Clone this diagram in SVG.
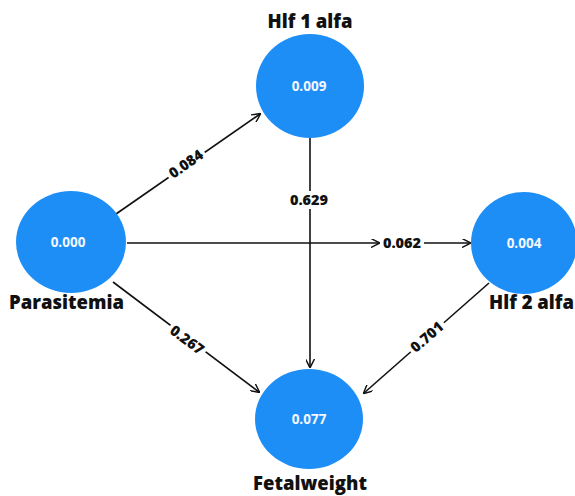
<svg xmlns="http://www.w3.org/2000/svg" width="575" height="496" viewBox="0 0 575 496">
<defs>
<marker id="ah" viewBox="0 0 10 10" refX="9" refY="5" markerWidth="9" markerHeight="9" markerUnits="userSpaceOnUse" orient="auto">
<path d="M0,0 L10,5 L0,10" fill="none" stroke="#111" stroke-width="1.6"/>
</marker>
<style>
.node{fill:#1E8EF7;}
.val{font-family:"Open Sans","DejaVu Sans",sans-serif;font-weight:bold;font-size:13.5px;fill:#f4f8ff;text-anchor:middle;}
.ttl{font-family:"Open Sans","DejaVu Sans",sans-serif;font-weight:800;font-size:18.5px;fill:#111;}
.edge{stroke:#111;stroke-width:1.6;fill:none;marker-end:url(#ah);}
.lbl{font-family:"Open Sans","DejaVu Sans",sans-serif;font-weight:800;font-size:14.5px;fill:#111;text-anchor:middle;}
.bg{fill:#fff;}
</style>
</defs>
<rect width="575" height="496" fill="#fff"/>
<g id="connectors">
<line class="edge" x1="116" y1="214" x2="260" y2="114"/>
<line class="edge" x1="310" y1="138" x2="310" y2="367"/>
<line class="edge" x1="127" y1="243" x2="379" y2="243"/>
<line class="edge" x1="424" y1="243" x2="470" y2="243"/>
<line class="edge" x1="113" y1="282" x2="259" y2="392"/>
<line class="edge" x1="489" y1="283" x2="364" y2="393"/>
<g transform="translate(186,164) rotate(-35)"><rect class="bg" x="-22" y="-9" width="44" height="18"/><text class="lbl" y="5">0.084</text></g>
<g transform="translate(309,200)"><rect class="bg" x="-22" y="-9" width="44" height="18"/><text class="lbl" y="5">0.629</text></g>
<g transform="translate(402,243)"><rect class="bg" x="-22" y="-9" width="44" height="18"/><text class="lbl" y="5">0.062</text></g>
<g transform="translate(187,340) rotate(37)"><rect class="bg" x="-22" y="-9" width="44" height="18"/><text class="lbl" y="5">0.267</text></g>
<g transform="translate(427,337) rotate(-41)"><rect class="bg" x="-22" y="-9" width="44" height="18"/><text class="lbl" y="5">0.701</text></g>
</g>
<g id="hlf1">
<ellipse class="node" cx="310" cy="86" rx="54" ry="52"/>
<text class="val" x="309" y="91">0.009</text>
<text class="ttl" x="310" y="28" text-anchor="middle">Hlf 1 alfa</text>
</g>
<g id="parasitemia">
<ellipse class="node" cx="71" cy="242" rx="55" ry="51"/>
<text class="val" x="68" y="247">0.000</text>
<text class="ttl" x="9" y="309">Parasitemia</text>
</g>
<g id="hlf2">
<ellipse class="node" cx="524" cy="243" rx="53" ry="51"/>
<text class="val" x="524" y="248">0.004</text>
<text class="ttl" x="574" y="309" text-anchor="end">Hlf 2 alfa</text>
</g>
<g id="fetalweight">
<ellipse class="node" cx="309" cy="419" rx="54" ry="50"/>
<text class="val" x="309" y="424">0.077</text>
<text class="ttl" x="310" y="490" text-anchor="middle">Fetalweight</text>
</g>
</svg>
